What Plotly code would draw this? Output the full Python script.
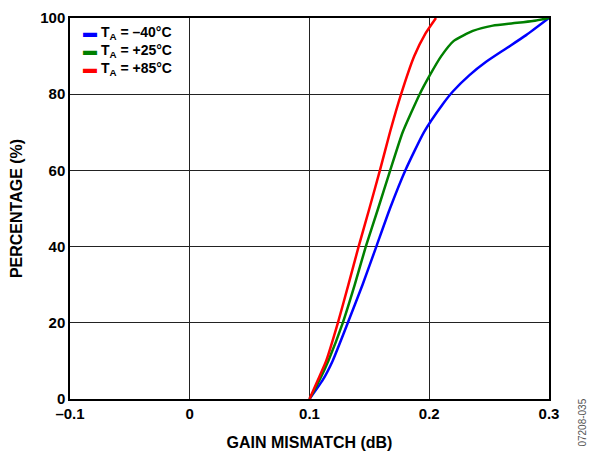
import plotly.graph_objects as go

# Gain mismatch (dB) vs cumulative percentage
x_m40 = [0.1, 0.1111, 0.1193, 0.132, 0.1443, 0.1558, 0.1672, 0.1800, 0.1955,
         0.2111, 0.2197, 0.2336, 0.2475, 0.2642, 0.2809, 0.3]
y_m40 = [0, 5, 10, 20, 30, 40, 50, 60, 70, 77.3, 80.7, 85, 88.5, 92, 95.5, 100]

x_p25 = [0.1, 0.1084, 0.1157, 0.1278, 0.1378, 0.147, 0.1573, 0.1674, 0.1778,
         0.1920, 0.2005, 0.2100, 0.2205, 0.2364, 0.2531, 0.2698, 0.2865, 0.3]
y_p25 = [0, 5, 10, 20, 30, 40, 50, 60, 70, 80, 85, 90, 94, 96.6, 98, 98.6, 99.2, 100]

x_p85 = [0.1, 0.107, 0.1139, 0.1237, 0.1325, 0.1410, 0.1500, 0.1588, 0.1672,
         0.1765, 0.1875, 0.197, 0.2056]
y_p85 = [0, 5, 10, 20, 30, 40, 50, 60, 70, 80, 90, 96, 100]

x_ticks = [-0.1, 0, 0.1, 0.2, 0.3]
x_tick_text = ["–0.1", "0", "0.1", "0.2", "0.3"]
y_ticks = [0, 20, 40, 60, 80, 100]

FONT = "Liberation Sans, Arial, sans-serif"

series = [
    (x_m40, y_m40, "T<sub>A</sub> = –40°C", "#0000ff"),
    (x_p25, y_p25, "T<sub>A</sub> = +25°C", "#008000"),
    (x_p85, y_p85, "T<sub>A</sub> = +85°C", "#ff0000"),
]

fig = go.Figure()
for xs, ys, name, color in series:
    fig.add_trace(go.Scatter(
        x=xs, y=ys, mode="lines", name=name, showlegend=False,
        line=dict(color=color, width=2.5, shape="spline", smoothing=0.5),
    ))

# datasheet-style key: short coloured bar then label, tight line spacing
legend_text = "<br>".join(
    f"<span style='color:{color}'>▬</span> {name}" for _, _, name, color in series
)

axis_common = dict(
    showgrid=True, gridcolor="#222222", gridwidth=1,
    showline=True, linecolor="black", linewidth=1.5, mirror=True,
    ticks="", ticklen=0, zeroline=False, automargin=False,
    tickfont=dict(family=FONT, size=15, color="black", weight="bold"),
)
title_font = dict(family=FONT, size=16, color="black", weight="bold")

fig.update_xaxes(
    range=[-0.1, 0.3], tickvals=x_ticks, ticktext=x_tick_text,
    title=dict(text="GAIN MISMATCH (dB)", standoff=16, font=title_font),
    **axis_common,
)
fig.update_yaxes(
    range=[0, 100], tickvals=y_ticks,
    title=dict(text="PERCENTAGE (%)", standoff=14, font=title_font),
    **axis_common,
)

fig.update_layout(
    width=589, height=454,
    margin=dict(l=70, r=40, t=18, b=55),
    plot_bgcolor="white", paper_bgcolor="white",
    showlegend=False,
    annotations=[
        dict(
            text=legend_text, xref="paper", yref="paper",
            x=0.023, y=0.99, xanchor="left", yanchor="top", align="left",
            showarrow=False,
            font=dict(family=FONT, size=14, color="black", weight="bold"),
        ),
        dict(
            text="07208-035", xref="paper", yref="paper",
            x=1.069, y=-0.13, xanchor="center", yanchor="bottom",
            textangle=-90, showarrow=False,
            font=dict(family=FONT, size=10, color="#555555"),
        ),
    ],
)

fig.write_html("out.html", config={"displayModeBar": False},
               post_script="document.body.style.margin='0';")
